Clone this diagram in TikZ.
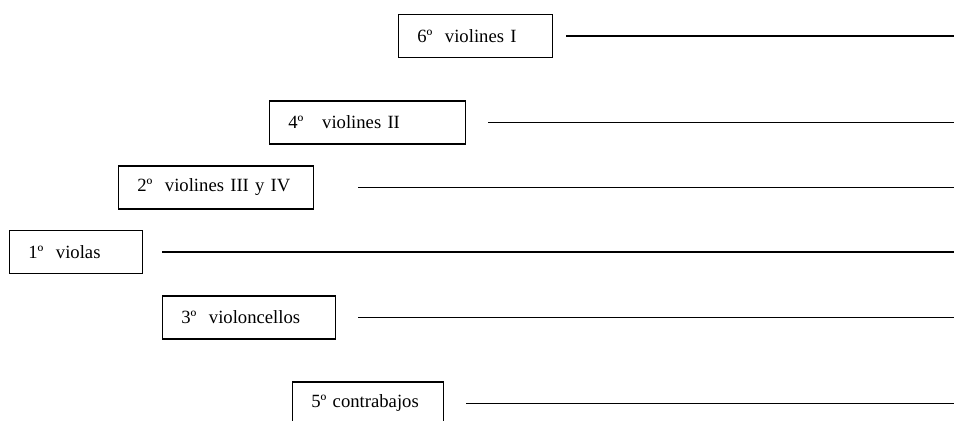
\documentclass[tikz,border=0pt]{standalone}
\usepackage{fontspec}
\setmainfont{Liberation Serif}
\usepackage{tikz}

\begin{document}
\begin{tikzpicture}[x=0.75pt,y=-0.75pt,
seccion/.style={draw,line width=1.1pt,anchor=west,minimum height=32.5pt,inner xsep=14pt,inner ysep=0pt,align=left,text width=#1,font=\fontsize{14}{16}\selectfont},
cuerda/.style={line width=1.1pt}]
\useasboundingbox(0,0)rectangle(954,421);
\coordinate(fin)at(954,0);
\node[seccion=87.5pt](vI)at(398,36){\mbox{6º\ \ violines I}};
\node[seccion=119pt](vII)at(269,122.5){\mbox{4º\ \ \ violines II}};
\node[seccion=118.25pt](vIII)at(118,187.5){\mbox{2º\ \ violines III y IV}};
\node[seccion=71.75pt](vla)at(9,252){\mbox{1º\ \ violas}};
\node[seccion=101.75pt](vc)at(162,317.5){\mbox{3º\ \ violoncellos}};
\node[seccion=85.25pt](cb)at(292,403.5){\mbox{5º contrabajos}};
\draw[cuerda]([xshift=9.75pt]vI.east)--(vI.east-|fin);
\draw[cuerda]([xshift=16.5pt]vII.east)--(vII.east-|fin);
\draw[cuerda]([xshift=33pt]vIII.east)--(vIII.east-|fin);
\draw[cuerda]([xshift=14.25pt]vla.east)--(vla.east-|fin);
\draw[cuerda]([xshift=16.5pt]vc.east)--(vc.east-|fin);
\draw[cuerda]([xshift=16.5pt]cb.east)--(cb.east-|fin);
\end{tikzpicture}
\end{document}
